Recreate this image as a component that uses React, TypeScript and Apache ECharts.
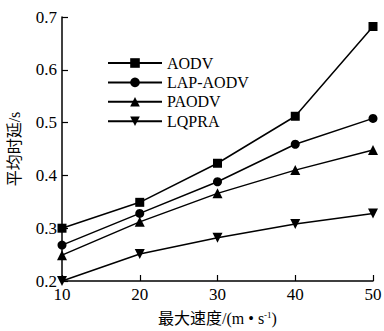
import React, { useEffect, useRef } from "react";
import * as echarts from "echarts";

const categories = [10, 20, 30, 40, 50];
const seriesNames = ["AODV", "LAP-AODV", "PAODV", "LQPRA"];
const aodv = [0.3, 0.349, 0.423, 0.512, 0.682];
const lapAodv = [0.268, 0.328, 0.388, 0.459, 0.508];
const paodv = [0.249, 0.312, 0.366, 0.41, 0.448];
const lqpra = [0.2, 0.251, 0.282, 0.308, 0.328];
const yTicks = [0.2, 0.3, 0.4, 0.5, 0.6, 0.7];

const FONT = "Liberation Serif, Times New Roman, Noto Sans CJK SC, serif";

export default function App() {
  const ref = useRef<HTMLDivElement>(null);
  useEffect(() => {
    if (!ref.current) return;
    const chart = echarts.init(ref.current, undefined, { renderer: "svg" });
    const all = [aodv, lapAodv, paodv, lqpra];
    const symbols = [
      "rect",
      "circle",
      "triangle",
      "path://M0,0 L10,0 L5,9 Z",
    ];
    const sizes = [9, 9, 10, 10];
    chart.setOption({
      animation: false,
      backgroundColor: "#fff",
      grid: { left: 62, right: 11, top: 17, bottom: 50, containLabel: false, outerBoundsMode: "none" },
      legend: {
        data: seriesNames,
        orient: "vertical",
        left: 102,
        top: 50,
        itemWidth: 54,
        itemHeight: 12,
        itemGap: 3.4,
        textStyle: { fontFamily: FONT, fontSize: 16, color: "#000", padding: [0, 0, 0, 0] },
      },
      xAxis: {
        type: "value",
        min: 10,
        max: 50,
        interval: 10,
        name: "最大速度/(m • s{sup|-1})",
        nameLocation: "middle",
        nameGap: 29,
        nameTextStyle: {
          fontFamily: FONT,
          fontSize: 16,
          color: "#000",
          rich: { sup: { fontSize: 9, verticalAlign: "top", padding: [0, 0, 8, 0], fontFamily: FONT, color: "#000" } },
        },
        axisLine: { show: true, lineStyle: { color: "#000", width: 1.5 } },
        axisTick: { show: true, inside: true, length: 6, lineStyle: { color: "#000", width: 1.2 } },
        axisLabel: { fontFamily: FONT, fontSize: 17, color: "#000", margin: 5 },
        splitLine: { show: false },
      },
      yAxis: {
        type: "value",
        min: 0.2,
        max: 0.7,
        interval: 0.1,
        name: "平均时延/s",
        nameLocation: "middle",
        nameGap: 40,
        nameTextStyle: { fontFamily: FONT, fontSize: 16, color: "#000" },
        axisLine: { show: true, lineStyle: { color: "#000", width: 1.5 } },
        axisTick: { show: true, inside: true, length: 6, lineStyle: { color: "#000", width: 1.2 } },
        axisLabel: {
          fontFamily: FONT,
          fontSize: 17,
          color: "#000",
          margin: 5,
          formatter: (v: number) => {
            const t = yTicks.find((x) => Math.abs(x - v) < 1e-6);
            return t !== undefined ? t.toFixed(1) : "";
          },
        },
        splitLine: { show: false },
      },
      series: seriesNames.map((name, i) => ({
        name,
        type: "line",
        data: categories.map((c, j) => [c, all[i][j]]),
        symbol: symbols[i],
        symbolSize: sizes[i],
        showAllSymbol: true,
        itemStyle: { color: "#000" },
        lineStyle: { color: "#000", width: 1.5 },
        clip: false,
      })),
    });
    return () => chart.dispose();
  }, []);
  return <div ref={ref} style={{ width: 384, height: 331, position: "absolute", left: 0, top: 0 }} />;
}
